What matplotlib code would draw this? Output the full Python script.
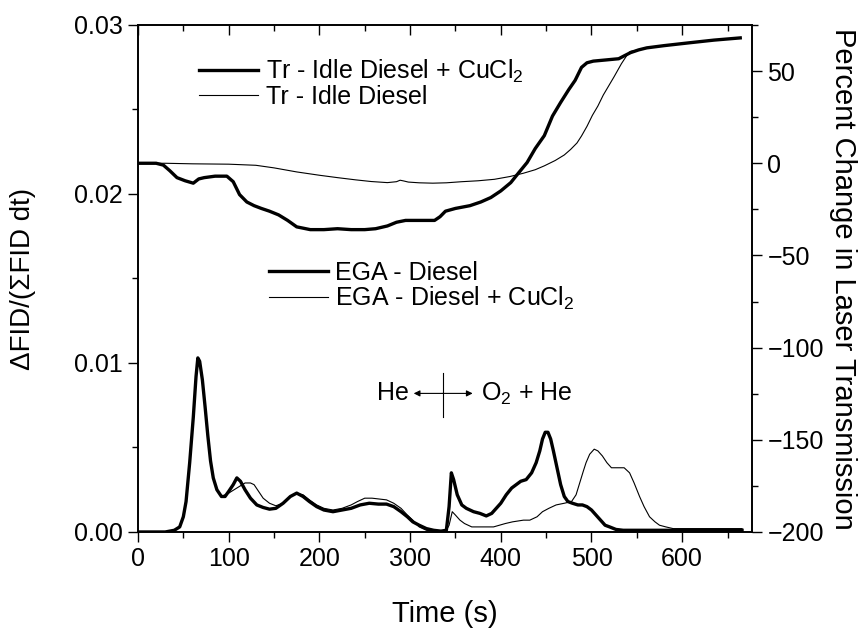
import numpy as np
import matplotlib
matplotlib.use('Agg')
from matplotlib import pyplot as plt
from matplotlib.lines import Line2D
from matplotlib.ticker import MultipleLocator

plt.rcParams['font.family'] = ['Liberation Sans', 'DejaVu Sans']
plt.rcParams['mathtext.fontset'] = 'custom'
plt.rcParams['mathtext.rm'] = 'Liberation Sans'
plt.rcParams['mathtext.it'] = 'Liberation Sans'

# evolved gas analysis, diesel soot (thick)
t_ega_d = [0, 30, 40, 46, 50, 53, 57, 61, 64, 66, 68, 71, 74, 77, 80, 83, 87, 92, 96, 100,
           105, 109, 113, 118, 124, 131, 138, 145, 152, 160, 168, 175, 182, 189, 197, 205,
           215, 225, 235, 245, 255, 265, 274, 282, 290, 297, 303, 310, 318, 326, 334, 340,
           343, 345.5, 348, 352, 357, 362, 370, 377, 384, 390, 395, 400, 406, 412, 417, 422,
           428, 434, 439, 443, 446, 449, 452, 455, 458, 462, 466, 470, 474, 479, 485, 490,
           495, 500, 505, 510, 515, 520, 527, 535, 560, 600, 640, 666]
v_ega_d = [0, 0, 0.0001, 0.0003, 0.0009, 0.0018, 0.0041, 0.0068, 0.0092, 0.0103, 0.0101,
           0.0090, 0.0074, 0.0057, 0.0042, 0.0032, 0.0025, 0.0021, 0.0021, 0.0024,
           0.0028, 0.0032, 0.0030, 0.0025, 0.0020, 0.0016, 0.00145, 0.00135, 0.0014, 0.0017,
           0.0021, 0.0023, 0.0021, 0.0018, 0.0015, 0.0013, 0.0012, 0.0013, 0.0014, 0.0016,
           0.0017, 0.00165, 0.00165, 0.0015, 0.0012, 0.0009, 0.0006, 0.0004, 0.0002, 0.0001,
           0.00005, 0.0001, 0.0015, 0.0035, 0.0031, 0.0022, 0.0016, 0.0014, 0.0012, 0.0011,
           0.00095, 0.0011, 0.0014, 0.0017, 0.0022, 0.0026, 0.0028, 0.0030, 0.0031, 0.0035,
           0.0041, 0.0048, 0.0055, 0.0059, 0.0059, 0.0055, 0.0048, 0.0038, 0.0028, 0.0021,
           0.0018, 0.0017, 0.0016, 0.0016, 0.0015, 0.0013, 0.0010, 0.0007, 0.0004, 0.0003,
           0.00015, 0.0001, 0.0001, 0.0001, 0.0001, 0.0001]

# evolved gas analysis, diesel soot + CuCl2 (thin)
t_ega_cu = [0, 30, 40, 46, 50, 53, 57, 61, 64, 66, 68, 71, 74, 77, 80, 83, 87, 92, 96, 100,
            106, 112, 118, 124, 128, 133, 138, 145, 152, 160, 168, 175, 182, 189, 197, 205,
            215, 225, 235, 242, 250, 258, 266, 274, 282, 290, 297, 303, 310, 318, 326, 334,
            340, 343, 346.5, 350, 355, 360, 368, 377, 392, 405, 413, 425, 432, 440, 446, 453,
            461, 470, 478, 483, 487, 491, 494, 498, 503, 507, 512, 517, 522, 529, 536, 542,
            547, 553, 558, 564, 570, 575, 582, 590, 610, 640, 666]
v_ega_cu = [0, 0, 0.0001, 0.0003, 0.0009, 0.0018, 0.0041, 0.0068, 0.0092, 0.0103, 0.0101,
            0.0090, 0.0074, 0.0057, 0.0042, 0.0032, 0.0025, 0.0021, 0.0022, 0.0023,
            0.0025, 0.0027, 0.0029, 0.0029, 0.0028, 0.0024, 0.0020, 0.0017, 0.00155, 0.0017,
            0.0021, 0.0023, 0.0022, 0.0019, 0.0016, 0.0014, 0.0013, 0.0014, 0.0016, 0.0018,
            0.0020, 0.0020, 0.00195, 0.0019, 0.0017, 0.0014, 0.0010, 0.0007, 0.0003, 0.0001,
            0.00005, 0.00005, 0.0001, 0.0004, 0.0012, 0.0010, 0.0007, 0.0005, 0.0003, 0.0003,
            0.0003, 0.0005, 0.0006, 0.0007, 0.0007, 0.0009, 0.0012, 0.0014, 0.0016, 0.0017,
            0.0018, 0.0022, 0.0029, 0.0036, 0.0041, 0.0046, 0.0049, 0.0048, 0.0045, 0.0041,
            0.0038, 0.0038, 0.0038, 0.0035, 0.0029, 0.0021, 0.0015, 0.0009, 0.0006, 0.0004,
            0.0003, 0.0002, 0.0002, 0.0002, 0.0002]

# laser transmission change (%), idle diesel + CuCl2 (thick)
t_tr_cu = [0, 20, 28, 35, 43, 52, 61, 67, 73, 85, 98, 105, 112, 120, 128, 136, 145, 155, 165,
           175, 190, 205, 220, 235, 250, 262, 275, 285, 295, 310, 327, 333, 339, 350, 366,
           378, 389, 400, 411, 420, 429, 438, 448, 457, 466, 475, 482, 489, 495, 502, 515,
           530, 537, 543, 552, 561, 580, 607, 635, 664]
v_tr_cu = [0, 0, -1, -4, -7.8, -9.5, -10.8, -8.5, -7.8, -7, -7, -10, -17, -21, -23, -24.5,
           -26, -28, -31, -34.5, -36, -36, -35.5, -36, -36, -35.5, -34, -32, -31, -31, -31,
           -29, -26, -24.5, -23, -21, -18.6, -15, -10.5, -5, 0.4, 8, 15, 25.6, 33, 40, 45,
           52, 54.5, 55.4, 56, 56.7, 58.5, 60, 61.5, 62.6, 63.8, 65.3, 66.8, 68]

# laser transmission change (%), idle diesel (thin)
t_tr_d = [0, 30, 60, 100, 130, 150, 175, 200, 220, 240, 257, 275, 285, 289, 293, 298, 310,
          325, 340, 357, 375, 393, 410, 425, 438, 448, 460, 470, 477, 484, 489, 495, 501,
          507, 513, 519, 525, 533, 541, 543, 552, 561, 580, 607, 635, 664]
v_tr_d = [0, 0, -0.3, -0.5, -1.1, -2.5, -4.7, -6.5, -7.8, -9, -9.9, -10.5, -10, -9.2, -9.6,
          -10.2, -10.6, -10.8, -10.6, -10, -9.5, -8.7, -7.2, -5.4, -3.5, -1.4, 1.5, 4.5, 7.5,
          11, 14.8, 20, 26, 31, 37, 42, 47, 54, 60, 60.7, 61.5, 62.6, 63.8, 65.3, 66.8, 68]

t_switch = 336  # He -> O2 + He

fs = 18
fig = plt.figure(figsize=(8.64, 6.28), dpi=100)
ax = fig.add_axes([0.1597, 0.1529, 0.7107, 0.8073])
ax2 = ax.twinx()

thick, thin = 2.4, 0.8
ax.plot(t_ega_cu, v_ega_cu, color='k', lw=thin)
ax.plot(t_ega_d, v_ega_d, color='k', lw=thick)
ax2.plot(t_tr_d, v_tr_d, color='k', lw=thin)
ax2.plot(t_tr_cu, v_tr_cu, color='k', lw=thick)

ax.set_xlim(0, 677)
ax.set_ylim(0, 0.03)
ax2.set_ylim(-200, 75)

ax.xaxis.set_major_locator(MultipleLocator(100))
ax.xaxis.set_minor_locator(MultipleLocator(50))
ax.yaxis.set_major_locator(MultipleLocator(0.01))
ax.yaxis.set_minor_locator(MultipleLocator(0.005))
ax.yaxis.set_major_formatter(plt.FormatStrFormatter('%.2f'))
ax2.yaxis.set_major_locator(MultipleLocator(50))
ax2.yaxis.set_minor_locator(MultipleLocator(25))

ax.tick_params(axis='x', which='both', direction='out', top=True, labelsize=fs, pad=4)
ax.tick_params(axis='y', which='both', direction='out', labelsize=fs, pad=4)
ax.tick_params(which='major', length=7, width=1)
ax.tick_params(which='minor', length=4, width=1)
ax2.tick_params(axis='y', which='both', direction='out', labelsize=fs, pad=4)
ax2.tick_params(which='major', length=7, width=1)
ax2.tick_params(which='minor', length=4, width=1)
# top ticks point into the plot
for tk in ax.xaxis.get_major_ticks() + ax.xaxis.get_minor_ticks():
    tk.tick2line.set_marker(matplotlib.lines.TICKDOWN)
for sp in list(ax.spines.values()) + list(ax2.spines.values()):
    sp.set_linewidth(1.2)

ax.set_xlabel('Time (s)', fontsize=21)
ax.set_ylabel('\u0394FID/(\u03a3FID dt)', fontsize=20)
ax.yaxis.set_label_coords(-0.166, 0.5)
ax.xaxis.set_label_coords(0.5, -0.135)
ax2.set_ylabel('Percent Change in Laser Transmission', fontsize=21, rotation=270, va='bottom')
ax2.yaxis.set_label_coords(1.125, 0.5)

leg1 = ax.legend(handles=[Line2D([], [], color='k', lw=thick), Line2D([], [], color='k', lw=thin)],
                 labels=['Tr - Idle Diesel + CuCl$_2$', 'Tr - Idle Diesel'],
                 loc='upper left', bbox_to_anchor=(0.10, 0.935), frameon=False, fontsize=fs,
                 handlelength=2.35, handletextpad=0.3, labelspacing=0.0, borderpad=0, borderaxespad=0)
ax.add_artist(leg1)
ax.legend(handles=[Line2D([], [], color='k', lw=thick), Line2D([], [], color='k', lw=thin)],
          labels=['EGA - Diesel', 'EGA - Diesel + CuCl$_2$'],
          loc='upper left', bbox_to_anchor=(0.213, 0.535), frameon=False, fontsize=fs,
          handlelength=2.35, handletextpad=0.3, labelspacing=0.0, borderpad=0, borderaxespad=0)

# gas switch marker
y_ann = 0.0082
ax.axvline(t_switch, ymin=0.227, ymax=0.314, color='k', lw=0.8)
ax.annotate('', xy=(304, y_ann), xytext=(t_switch, y_ann),
            arrowprops=dict(arrowstyle='-|>', color='k', lw=0.8, mutation_scale=9, shrinkA=0, shrinkB=0))
ax.annotate('', xy=(369, y_ann), xytext=(t_switch, y_ann),
            arrowprops=dict(arrowstyle='-|>', color='k', lw=0.8, mutation_scale=9, shrinkA=0, shrinkB=0))
ax.text(299, y_ann, 'He', fontsize=fs, ha='right', va='center')
ax.text(378, y_ann, 'O$_2$ + He', fontsize=fs, ha='left', va='center')

fig.savefig('out.png', dpi=100)
